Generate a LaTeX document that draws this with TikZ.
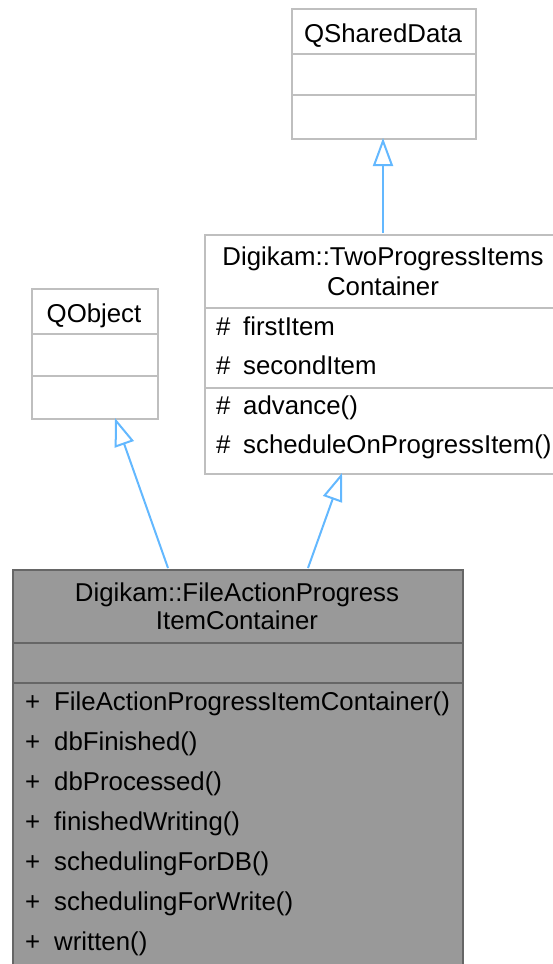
\documentclass[tikz,border=0pt]{standalone}
\usepackage{fontspec}
\setmainfont{Liberation Sans}
\usetikzlibrary{arrows.meta}
\definecolor{boxline}{HTML}{BFBFBF}
\definecolor{darkline}{HTML}{666666}
\definecolor{darkfill}{HTML}{999999}
\definecolor{inhblue}{HTML}{63B8FF}
\tikzset{
  classbox/.style={draw=boxline, line width=2pt, fill=white, rectangle, inner sep=0pt, anchor=north west},
  mainbox/.style={draw=darkline, line width=2pt, fill=darkfill, rectangle, inner sep=0pt, anchor=north west},
  txt/.style={inner sep=0pt, anchor=base, font=\fontsize{25.8}{30}\selectfont},
  ltxt/.style={txt, anchor=base west},
  sep/.style={draw=boxline, line width=2pt},
  dsep/.style={draw=darkline, line width=2pt},
  inh/.style={draw=inhblue, line width=2pt, -{Triangle[length=28pt,width=20pt,fill=white,line width=2pt]}}
}
\begin{document}
\begin{tikzpicture}[x=1pt,y=-1pt]
\useasboundingbox (0,0) rectangle (553,964);
% QSharedData
\node[classbox, minimum width=184pt, minimum height=130pt] (qsd) at (291,8) {};
\draw[sep] (291,54) -- (475,54);
\draw[sep] (291,95) -- (475,95);
\node[txt] (qsdt) at (383,42) {QSharedData};
% TwoProgressItemsContainer
\node[classbox, minimum width=360pt, minimum height=239pt] (tpc) at (204,234) {};
\draw[sep] (204,308) -- (564,308);
\draw[sep] (204,388) -- (564,388);
\node[txt] (tpct1) at (383,265) {Digikam::TwoProgressItems};
\node[txt] (tpct2) at (383,295) {Container};
\node[ltxt] (tpa1) at (216,335) {\#};
\node[ltxt] (tpa1n) at (243,335) {firstItem};
\node[ltxt] (tpa2) at (216,374) {\#};
\node[ltxt] (tpa2n) at (243,374) {secondItem};
\node[ltxt] (tpm1) at (216,414) {\#};
\node[ltxt] (tpm1n) at (243,414) {advance()};
\node[ltxt] (tpm2) at (216,453) {\#};
\node[ltxt] (tpm2n) at (243,453) {scheduleOnProgressItem()};
% QObject
\node[classbox, minimum width=126pt, minimum height=130pt] (qo) at (31,288) {};
\draw[sep] (31,334) -- (157,334);
\draw[sep] (31,376) -- (157,376);
\node[txt] (qot) at (94,322) {QObject};
% FileActionProgressItemContainer
\node[mainbox, minimum width=450pt, minimum height=420pt] (fa) at (12,569) {};
\draw[dsep] (12,643) -- (462,643);
\draw[dsep] (12,683) -- (462,683);
\node[txt] (fat1) at (237,601) {Digikam::FileActionProgress};
\node[txt] (fat2) at (237,629) {ItemContainer};
\foreach \n/\y/\t in {m1/710/FileActionProgressItemContainer(), m2/750/dbFinished(), m3/790/dbProcessed(), m4/830/finishedWriting(), m5/870/schedulingForDB(), m6/910/schedulingForWrite(), m7/950/written()} {
  \node[ltxt] (fa\n p) at (25,\y) {+};
  \node[ltxt] (fa\n) at (54,\y) {\t};
}
% inheritance connectors
\coordinate (faL) at (168,568);
\coordinate (faR) at (308,568);
\coordinate (qoB) at (115,418);
\coordinate (tpcB) at (342,473);
\coordinate (tpcT) at (383,233);
\coordinate (qsdB) at (383,138);
\draw[inh] (faL) -- (qoB);
\draw[inh] (faR) -- (tpcB);
\draw[inh] (tpcT) -- (qsdB);
\end{tikzpicture}
\end{document}
